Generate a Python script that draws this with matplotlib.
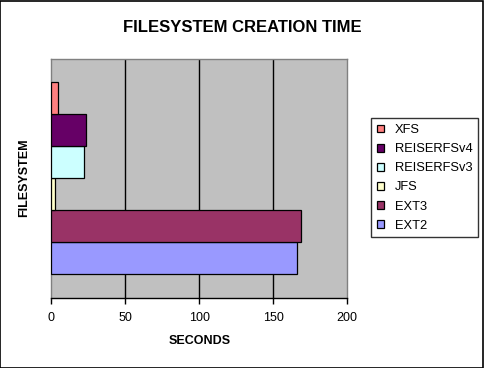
import matplotlib
matplotlib.use('Agg')
import matplotlib.pyplot as plt
from matplotlib.patches import Rectangle

# ─── Datos ───────────────────────────────────────────────────────────────────
filesystems = ['EXT2', 'EXT3', 'JFS', 'REISERFSv3', 'REISERFSv4', 'XFS']
seconds     = [166.2, 168.9, 2.7, 22.3, 23.6, 4.7]
colors      = ['#9999FF', '#993366', '#FFFFCC', '#CCFFFF', '#660066', '#FF8080']
xticks      = [0, 50, 100, 150, 200]

plt.rcParams['font.family'] = ['Liberation Sans', 'DejaVu Sans']

fig = plt.figure(figsize=(4.84, 3.68), dpi=100)
fig.patch.set_facecolor('white')
fig.patches.append(Rectangle((0.001, 0.001), 0.997, 0.997, transform=fig.transFigure,
                             fill=False, edgecolor='black', lw=1.2))

ax = fig.add_axes([51.3 / 484, 70 / 368, 296 / 484, 239.5 / 368])
ax.set_facecolor('#C0C0C0')

# una categoría, 6 series, gap width 150 %
n = len(filesystems)
h = 1.0 / (n + 1.5)
for i, (fs, v, c) in enumerate(zip(filesystems, seconds, colors)):
    y = -0.5 + 0.75 * h + (i + 0.5) * h
    ax.barh(y, v, height=h, color=c, edgecolor='black', lw=0.9, label=fs, zorder=3)

ax.set_xlim(0, 200)
ax.set_ylim(-0.5, 0.5)
ax.set_xticks(xticks)
ax.set_yticks([])
for x in xticks[1:-1]:
    ax.axvline(x, color='black', lw=1.0, zorder=1)

for side in ['left', 'top', 'right']:
    ax.spines[side].set_color('#808080')
    ax.spines[side].set_linewidth(1.0)
ax.spines['bottom'].set_color('black')
ax.spines['bottom'].set_linewidth(1.0)
ax.tick_params(axis='x', direction='out', length=4, width=1.0, labelsize=9, pad=6)

ax.set_xlabel('SECONDS', fontsize=9, fontweight='bold', labelpad=8)
fig.text(24 / 484, 1 - 178 / 368, 'FILESYSTEM', rotation=90, fontsize=9,
         fontweight='bold', ha='center', va='center')
fig.text(242.5 / 484, 1 - 27 / 368, 'FILESYSTEM CREATION TIME', fontsize=12,
         fontweight='bold', ha='center', va='center')

handles, labels = ax.get_legend_handles_labels()
leg = fig.legend(handles[::-1], labels[::-1], loc='upper left',
                 bbox_to_anchor=(371 / 484, 1 - 118.3 / 368),
                 fontsize=9.3, frameon=True, fancybox=False, shadow=False,
                 borderpad=0.45, labelspacing=0.55, handlelength=0.55,
                 handleheight=0.55, handletextpad=0.85, borderaxespad=0)
leg.get_frame().set_edgecolor('black')
leg.get_frame().set_linewidth(1.0)

fig.savefig('out.png', dpi=100)
